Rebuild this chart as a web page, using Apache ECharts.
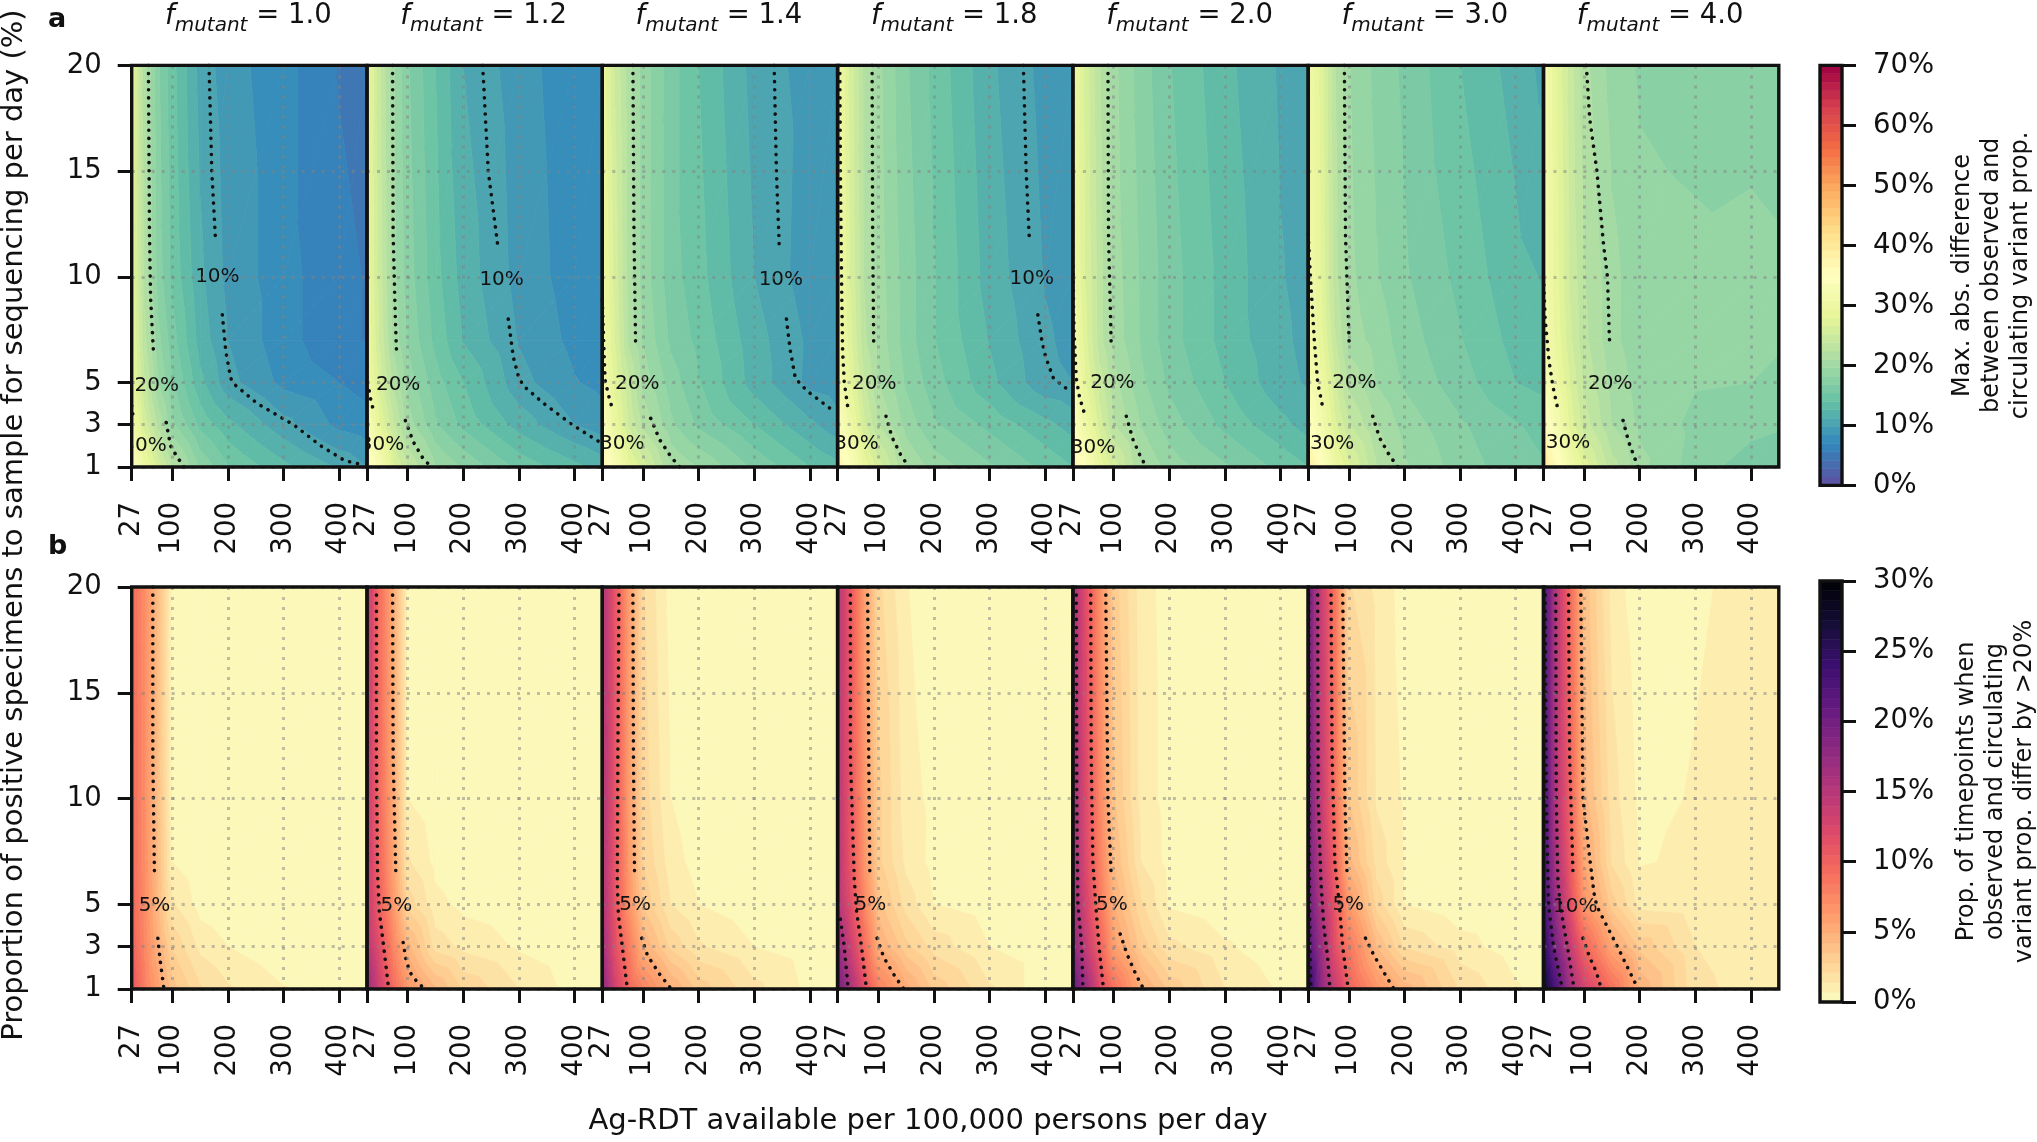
<!DOCTYPE html>
<html><head><meta charset="utf-8"><style>html,body{margin:0;padding:0;background:#fff}#c{width:2037px;height:1142px}</style>
<script src="https://cdn.jsdelivr.net/npm/echarts@6/dist/echarts.min.js"></script></head>
<body><div id="c"></div><script>
const factors=['1.0','1.2','1.4','1.8','2.0','3.0','4.0'];
const xNodes=[27,50,75,100,150,200,300,400,450];
const yNodes=[20,10,7,5,3,1];
const xTicks=[27,100,200,300,400];
const yTicks=[1,3,5,10,15,20];
const diffTicks=[0,10,20,30,40,50,60,70];
const propTicks=[0,5,10,15,20,25,30];

const maxDiff_f10=[[28,21.5,17,14.5,10.7,9,7.5,5.5,5],[28,22,17.5,15,11.5,9.4,7.5,6,5.5],[28.5,22.8,18.6,16,12,9.8,7.5,6,5.5],[29,24,19.5,17,13,10.3,8,7,6.5],[31,26,22,18.5,15,13,10.3,8,7.5],[35,30,26,22.5,18,15.5,13,11,9.8]];
const maxDiff_f12=[[29,24,19.7,17,14,11.2,9,7.5,7],[29,24.5,20,17.5,14.5,12,9.3,7.7,7.2],[29.5,25,20.5,18,15,12.5,9.7,8,7.5],[30.5,26,22,19,16,14,10.3,8.5,8],[33,28,24,20.3,17,15,12,9.8,9],[37,32,27,24,19.8,18,15,13,12]];
const maxDiff_f14=[[29,25,21.5,19,16,14,10.7,9.2,8.8],[30,26,21.7,19,16,14.5,11.2,9,8.7],[30.5,26.5,22,19.5,16.5,15,11.8,9.5,9],[31.5,27.5,24,20.5,17.5,15.5,12,9.4,9],[34,29,25,22,18.5,16.5,14,11.5,10.3],[37,33,28.5,26,21,19.5,16.5,14,13]];
const maxDiff_f18=[[30.5,26,22,20,17,15,11.5,9.3,9],[30.7,26.5,22.3,20.3,17.5,15.5,12,9.7,9.2],[31,27,22.7,20.5,17.5,15.5,12.5,10,9.4],[32,28,24,21,18,16,13,10.2,9.8],[34,30,25.5,22.5,19,17,15,13,12],[38,34,29,26,21,19,17,15,14]];
const maxDiff_f20=[[30,26,22.5,20,17.5,15.5,13,11,10.5],[30,26.5,23,20.3,18,16,13.5,11.3,10.7],[31,27,23,20.5,18,16,13.5,11.5,10.8],[32.5,28,24.5,21.5,18.5,16.5,14,11.7,11],[34.5,30,26,22.5,19.5,17.5,15,13,12],[38,34,29,26,21,19,17,15,14]];
const maxDiff_f30=[[31,27.5,22.5,19.7,17.8,16.5,14,12,10.8],[31,28,23,20,18.3,17,15,13,12.5],[31.5,28.5,24,20.5,19,17.5,15.5,13.5,13],[32.5,30,25.5,22,19.5,18,16,14,13.5],[35,31.5,27,24,21,19,17,15.5,15],[39,35,30,27,22.5,19.8,17.5,16,15.5]];
const maxDiff_f40=[[32,28,24.5,21.5,19,18,17.7,17.5,17.3],[32,28.5,25,22.5,20,18.7,18.5,18.7,18.5],[32,29,25.5,22.8,20,18.7,18.5,18.5,18.3],[33.5,30,26.5,23.5,20.5,19,18.3,18.2,18],[36,32,27.5,24.5,21,19.3,17.8,17.3,17],[40,36,31,27.5,23,20,17.5,16,15.5]];

const propOff_f10=[[9.5,7,4,0.4,0,0,0,0,0],[9.5,7,3.8,0.5,0,0,0,0,0],[9.5,7,4,0.7,0.1,0,0,0,0],[9.8,7.2,4.2,1.5,0.4,0.1,0,0,0],[10,7.5,4.8,2.7,1.2,0.7,0.1,0,0],[11,8,5.8,3.8,2.2,1.5,0.75,0,0]];
const propOff_f12=[[14,9,5,0.5,0,0,0,0,0],[14,9.2,5.2,0.7,0.2,0,0,0,0],[14,9.5,5.5,1.5,0.5,0.2,0,0,0],[14.2,10,6.2,2.5,0.9,0.5,0.2,0,0],[15,11.5,7.5,4.5,1.8,1.2,0.6,0.1,0],[17,13,9.2,6.5,4.3,2.7,1.4,0.4,0]];
const propOff_f14=[[15.5,11,6,2.2,0.4,0.1,0,0,0],[15.5,11,6,2.5,0.7,0.2,0,0,0],[15.5,11,6.2,2.8,1,0.4,0.1,0,0],[15.6,11,6.6,3.4,1.4,0.7,0.2,0,0],[16.5,11.5,8.2,4.9,2.6,1.5,0.7,0.3,0.1],[18,13,9.6,7.8,5,3.2,1.6,0.5,0.3]];
const propOff_f18=[[15,10.8,6,2.3,0.75,0.2,0.1,0,0],[15,11,6.5,3,1,0.5,0.1,0,0],[15,11,6.6,3,1.2,0.45,0.1,0,0],[15.2,11.8,7.5,3.8,1.8,0.7,0.3,0.1,0],[17.5,13.5,9.2,5,3,1.8,0.7,0.2,0],[20,16,11.5,8,5.2,3.3,1.5,0.2,0.1]];
const propOff_f20=[[16.2,11.8,7,3.2,1,0.4,0,0,0],[16.5,12,7.5,3.6,1.1,0.4,0,0,0],[16.5,12.2,8,4.2,1.4,0.45,0.1,0,0],[17,12.8,8.5,5,2.2,0.6,0.2,0,0],[18,14,10,6,3.2,1.6,0.8,0.2,0],[21,17,12,9,5.1,3.3,1.4,0.6,0.1]];
const propOff_f30=[[20,13.7,8.6,2.2,1.2,0.4,0,0,0],[20,14,9,3.5,1.3,0.6,0,0,0],[20,14.5,10,4.5,1.8,0.65,0.1,0,0],[20.5,15.5,11,6.3,2.5,0.7,0.2,0,0],[22,17,11.5,8.5,4.2,2,1,0.3,0.1],[25,18,13.8,10,6.7,4.6,2,0.8,0.4]];
const propOff_f40=[[23,14.8,9.3,4,1.1,0.2,0.6,0.9,0.95],[23,15,10,4.5,1.7,0.5,0.75,0.95,1],[23,15.5,10.5,5.5,2,0.65,0.8,0.95,1],[23.5,17,11.5,6.6,3.1,1.1,0.85,0.95,1],[25,19,14,9.8,5.5,3.3,1.4,1,1],[28,22.5,16.5,13,9,4.8,1.6,1.1,1]];

const contoursDiff=[
 [[[57,20],[59,12],[61,9],[66,6.5]],[[89,3.1],[97,2],[108,1.5],[121,1]],[[27,3.9],[29,3.5]],[[166,20],[171,15],[178,11.6]],[[190,8.2],[196,6.5],[205,5.2],[212,4.9],[253,4],[318,3],[367,2],[410,1.3],[443,1.1]]],
 [[[73,20],[74,12],[78,8],[80,6.5]],[[96,3.2],[110,2.2],[130,1.3],[145,1]],[[31,4.6],[35,4],[40,3.6]],[[235,20],[245,15],[262,11.5]],[[281,8],[290,6.2],[300,5.2],[310,4.8],[345,4],[396,3],[444,2.2]]],
 [[[82,20],[84,12],[87,6.6]],[[114,3.3],[130,2.3],[150,1.5],[166,1]],[[27,8.9],[30,6.5],[32,5.1],[40,4.2],[46,3.7]],[[336,20],[340,15],[345,11.5]],[[358,8],[365,6.5],[374,5.2],[395,4.6],[440,3.7]]],
 [[[89,20],[90,12],[92,6.6]],[[114,3.4],[125,2.4],[140,1.6],[155,1]],[[31,20],[32,15],[34,10],[36,6.5],[39,5],[46,3.7]],[[361,20],[366,15],[372,11.6]],[[387,8.2],[394,7],[401,6.2],[415,5.2],[439,4.7]]],
 [[[90,20],[91,12],[96,6.6]],[[123,3.4],[135,2.3],[150,1.4],[160,1]],[[27,10.5],[29,7.5],[33,5.2],[39,4.3],[47,3.6]]],
 [[[92,20],[94,12],[101,6.6]],[[143,3.4],[155,2.4],[172,1.6],[188,1]],[[27,12],[31,10],[38,7],[44,5],[54,3.7]]],
 [[[104,20],[110,17.5],[123,15],[135,11.5],[142,10],[146,6.7]],[[170,3.2],[180,2.2],[197,1]],[[27,10],[30,8],[37,6],[44,4.8],[53,3.7]]]
];
const labelsDiff=[
 [['10%',181,10],['20%',72,4.85],['30%',50,2]],
 [['10%',269,9.85],['20%',83,4.9],['30%',54,2.05]],
 [['10%',348,9.85],['20%',90,4.93],['30%',63,2.1]],
 [['10%',376,9.9],['20%',93,4.95],['30%',61,2.1]],
 [['20%',98,5],['30%',63,1.9]],
 [['20%',110,5],['30%',70,2.1]],
 [['20%',147,4.95],['30%',71,2.15]]
];
const contoursProp=[
 [[[65,20],[65,12],[68,6.3]],[[74,3.4],[78,2.4],[85,1]]],
 [[[44,20],[44,12],[46,6.5],[49,4.7],[57,3],[66,1]],[[73,20],[74,12],[79,6.3]],[[92,3.2],[97,2.4],[104,1.8],[118,1.3],[131,1]]],
 [[[57,20],[55,12],[54,6],[56,4.5],[63,3],[72,1]],[[82,20],[83,12],[85,6.3]],[[98,3.4],[108,2.6],[130,1.7],[151,1]]],
 [[[32,4.3],[39,3],[46,1]],[[50,20],[50,12],[57,6.2],[61,4.7],[70,3],[79,1]],[[81,20],[83,12],[85,6.3]],[[98,3.4],[110,2.5],[130,1.6],[146,1]]],
 [[[33,20],[34,10],[36,5],[43,3],[45,1]],[[59,20],[60,12],[63,7],[68,5],[74,3],[82,1]],[[86,20],[90,10],[96,6.3]],[[112,3.6],[125,2.6],[140,1.7],[154,1]]],
 [[[28,20],[29,8],[30,3],[32,1]],[[44,20],[45,10],[50,6],[55,4],[62,2.5],[66,1]],[[68,20],[70,12],[75,7],[83,5],[89,3],[99,1]],[[89,20],[93,10],[97,6.3]],[[130,3.4],[145,2.6],[165,1.7],[181,1]]],
 [[[30,20],[32,10],[36,5],[45,3],[61,1]],[[49,20],[50,10],[53,6],[60,4.5],[70,3],[82,1]],[[72,20],[74,12],[80,6.5]],[[98,3.4],[110,2.5],[122,1.8],[131,1]],[[94,20],[98,10],[111,7],[118,5.5],[123,4.9],[160,3],[197,1]]]
];
const labelsProp=[
 [['5%',68,4.92]],[['5%',80,4.92]],[['5%',86,4.97]],[['5%',86,4.97]],[['5%',97,4.97]],[['5%',99,4.97]],[['10%',84,4.9]]
];
const spectralStops=['#5e4fa2','#3288bd','#66c2a5','#abdda4','#e6f598','#ffffbf','#fee08b','#fdae61','#f46d43','#d53e4f','#9e0142'];
const magmaStops=['#fcfdbf','#fecf92','#fe9f6d','#f7705c','#de4968','#b73779','#8c2981','#641a80','#3b0f70','#140e36','#000004'];

const FONT='"DejaVu Sans"';
const INK='#111';
const hex=h=>[1,3,5].map(i=>parseInt(h.substr(i,2),16));
function cmap(stops,t){t=Math.max(0,Math.min(1,t));const p=t*(stops.length-1),i=Math.min(stops.length-2,Math.floor(p)),f=p-i;
 const a=hex(stops[i]),b=hex(stops[i+1]);return 'rgb('+a.map((v,k)=>Math.round(v+(b[k]-v)*f)).join(',')+')';}
function bandsOf(max,n,stops){const o=[];for(let k=0;k<n;k++){const lo=max*k/n,hi=max*(k+1)/n;o.push([lo,hi,cmap(stops,(k+.5)/n)]);}return o;}
const diffBands=bandsOf(70,50,spectralStops), propBands=bandsOf(30,43,magmaStops);

function trisOf(m){const t=[];for(let r=0;r<yNodes.length-1;r++)for(let c=0;c<xNodes.length-1;c++){
 const A=[xNodes[c],yNodes[r],m[r][c]],B=[xNodes[c+1],yNodes[r],m[r][c+1]],C=[xNodes[c+1],yNodes[r+1],m[r+1][c+1]],D=[xNodes[c],yNodes[r+1],m[r+1][c]];
 t.push([...A,...B,...D]);t.push([...B,...C,...D]);}return t;}
function clipV(poly,level,keepAbove){const out=[];for(let i=0;i<poly.length;i++){const p=poly[i],q=poly[(i+1)%poly.length];
 const pin=keepAbove?p[2]>=level:p[2]<=level,qin=keepAbove?q[2]>=level:q[2]<=level;
 if(pin)out.push(p);
 if(pin!==qin){const f=(level-p[2])/(q[2]-p[2]);out.push([p[0]+(q[0]-p[0])*f,p[1]+(q[1]-p[1])*f,level]);}}return out;}
function contourRender(bands){return function(params,api){
 const v=[0,1,2,3,4,5,6,7,8].map(i=>api.value(i));
 const tri=[[v[0],v[1],v[2]],[v[3],v[4],v[5]],[v[6],v[7],v[8]]];
 const vs=tri.map(p=>p[2]),mn=Math.min(...vs),mx=Math.max(...vs);const children=[];
 for(const b of bands){if(b[1]<mn||b[0]>mx)continue;
  let poly=clipV(tri,b[0],true);if(poly.length)poly=clipV(poly,b[1],false);
  if(poly.length<3)continue;
  children.push({type:'polygon',silent:true,shape:{points:poly.map(p=>api.coord([p[0],p[1]]))},style:{fill:b[2],stroke:b[2],lineWidth:0.8}});}
 return {type:'group',children};};}

const grids=[],xAxes=[],yAxes=[],series=[],titles=[];
const LEFT=131.7,W=235.3,TOPS=[65.4,587],H=[401.6,402];
const DOT={type:[3,7],width:3,color:'rgba(130,130,130,0.5)'};
const LAB=27.5;
function frame(idx,lw){series.push({type:'custom',coordinateSystem:'cartesian2d',xAxisIndex:idx,yAxisIndex:idx,z:8,silent:true,clip:false,data:[[0,0]],encode:{x:[],y:[]},
 renderItem:(p)=>({type:'rect',silent:true,shape:{x:p.coordSys.x,y:p.coordSys.y,width:p.coordSys.width,height:p.coordSys.height},style:{fill:null,stroke:INK,lineWidth:lw}})});}
function panel(row,i,matrix,bands,lines,labels){
 const idx=grids.length;
 grids.push({left:LEFT+W*i,top:TOPS[row],width:W,height:H[row],show:false,outerBoundsMode:'none'});
 xAxes.push({gridIndex:idx,type:'value',min:27,max:450,z:5,axisLine:{show:false},
  axisTick:{show:true,customValues:xTicks,length:14,inside:false,lineStyle:{color:INK,width:3}},
  axisLabel:{show:true,customValues:xTicks,rotate:90,margin:35,padding:[5,0,0,0],fontFamily:FONT,fontSize:LAB,color:INK,hideOverlap:false,showMinLabel:true,showMaxLabel:true},
  splitLine:{show:true,lineStyle:DOT}});
 yAxes.push({gridIndex:idx,type:'value',min:1,max:20,z:5,axisLine:{show:false},
  axisTick:{show:i===0,customValues:yTicks,length:14,lineStyle:{color:INK,width:3}},
  axisLabel:{show:i===0,customValues:yTicks,margin:30,padding:[5,0,0,0],fontFamily:FONT,fontSize:LAB,color:INK},
  splitLine:{show:true,lineStyle:DOT}});
 series.push({type:'custom',coordinateSystem:'cartesian2d',xAxisIndex:idx,yAxisIndex:idx,z:1,silent:true,clip:true,
  data:trisOf(matrix),encode:{x:[0,3,6],y:[1,4,7]},renderItem:contourRender(bands)});
 for(const l of lines)series.push({type:'line',xAxisIndex:idx,yAxisIndex:idx,z:3,silent:true,clip:true,showSymbol:false,smooth:false,data:l,
  lineStyle:{color:INK,width:3.6,type:[0.1,8],cap:'round'}});
 series.push({type:'custom',coordinateSystem:'cartesian2d',xAxisIndex:idx,yAxisIndex:idx,z:4,silent:true,clip:true,
  data:labels.map(l=>[l[1],l[2],l[0]]),encode:{x:0,y:1},
  renderItem:(p,api)=>{const c=api.coord([api.value(0),api.value(1)]);
   return {type:'text',silent:true,style:{x:c[0],y:c[1],text:String(api.value(2)),fill:INK,font:'20px '+FONT,align:'center',verticalAlign:'middle'}};},
  dimensions:['x','y',{name:'t',type:'ordinal'}]});
 frame(idx,3.4);
}
const diffMats=[maxDiff_f10,maxDiff_f12,maxDiff_f14,maxDiff_f18,maxDiff_f20,maxDiff_f30,maxDiff_f40];
const propMats=[propOff_f10,propOff_f12,propOff_f14,propOff_f18,propOff_f20,propOff_f30,propOff_f40];
factors.forEach((f,i)=>{panel(0,i,diffMats[i],diffBands,contoursDiff[i],labelsDiff[i]);
 titles.push({text:'{f|f}{s|mutant}{n| = '+f+'}',left:LEFT+W*(i+.5)-6,top:-3,textAlign:'center',
  textStyle:{fontWeight:'normal',rich:{f:{fontFamily:FONT,fontStyle:'italic',fontWeight:'normal',fontSize:27.5,color:INK,padding:[0,0,6,0],verticalAlign:'bottom'},
   s:{fontFamily:FONT,fontStyle:'italic',fontWeight:'normal',fontSize:20,color:INK,padding:[12,0,0,0],verticalAlign:'bottom'},
   n:{fontFamily:FONT,fontWeight:'normal',fontSize:27.5,color:INK,padding:[0,0,6,0],verticalAlign:'bottom'}}}});});
factors.forEach((f,i)=>panel(1,i,propMats[i],propBands,contoursProp[i],labelsProp[i]));

function colorbar(top,height,max,ticks,bands,name,gap){
 const idx=grids.length;
 grids.push({left:1820,top,width:22,height,show:false,outerBoundsMode:'none'});
 xAxes.push({gridIndex:idx,type:'value',min:0,max:1,show:false});
 yAxes.push({gridIndex:idx,type:'value',position:'right',min:0,max,z:5,axisLine:{show:false,onZero:false},splitLine:{show:false},
  axisTick:{show:true,customValues:ticks,length:14,lineStyle:{color:INK,width:3}},
  axisLabel:{customValues:ticks,margin:31,padding:[5,0,0,0],formatter:'{value}%',fontFamily:FONT,fontSize:LAB,color:INK,align:'left'},
  name,nameLocation:'middle',nameRotate:90,nameGap:gap,nameTextStyle:{fontFamily:FONT,fontSize:24,color:INK,lineHeight:29,align:'center'}});
 series.push({type:'custom',coordinateSystem:'cartesian2d',xAxisIndex:idx,yAxisIndex:idx,z:1,silent:true,clip:true,
  data:bands.map(b=>[0,b[0],1,b[1],b[2]]),encode:{x:[0,2],y:[1,3]},dimensions:['a','b','c','d',{name:'e',type:'ordinal'}],
  renderItem:(p,api)=>{const a=api.coord([0,api.value(1)]),b=api.coord([1,api.value(3)]);const col=api.value(4);
   return {type:'rect',silent:true,shape:{x:a[0],y:b[1],width:b[0]-a[0],height:a[1]-b[1]},style:{fill:col,stroke:col,lineWidth:0.6}};}});
 frame(idx,3.4);
}
colorbar(65.4,420,70,diffTicks,diffBands,'Max. abs. difference\nbetween observed and\ncirculating variant prop.',106);
colorbar(581,421,30,propTicks,propBands,'Prop. of timepoints when\nobserved and circulating\nvariant prop. differ by >20%',110);

const chart=echarts.init(document.getElementById('c'),null,{renderer:'canvas',width:2037,height:1142});
chart.setOption({animation:false,backgroundColor:'#fff',title:titles,grid:grids,xAxis:xAxes,yAxis:yAxes,series,
 graphic:[
  {type:'text',left:48,top:6,style:{text:'a',font:'bold 27px '+FONT,fill:INK}},
  {type:'text',left:48,top:533,style:{text:'b',font:'bold 27px '+FONT,fill:INK}},
  {type:'text',x:928,y:1121,style:{text:'Ag-RDT available per 100,000 persons per day',font:'29px '+FONT,fill:INK,align:'center',verticalAlign:'middle'}},
  {type:'text',x:14,y:525,rotation:Math.PI/2,style:{text:'Proportion of positive specimens to sample for sequencing per day (%)',font:'29px '+FONT,fill:INK,align:'center',verticalAlign:'middle'}}
 ]});
</script></body></html>
